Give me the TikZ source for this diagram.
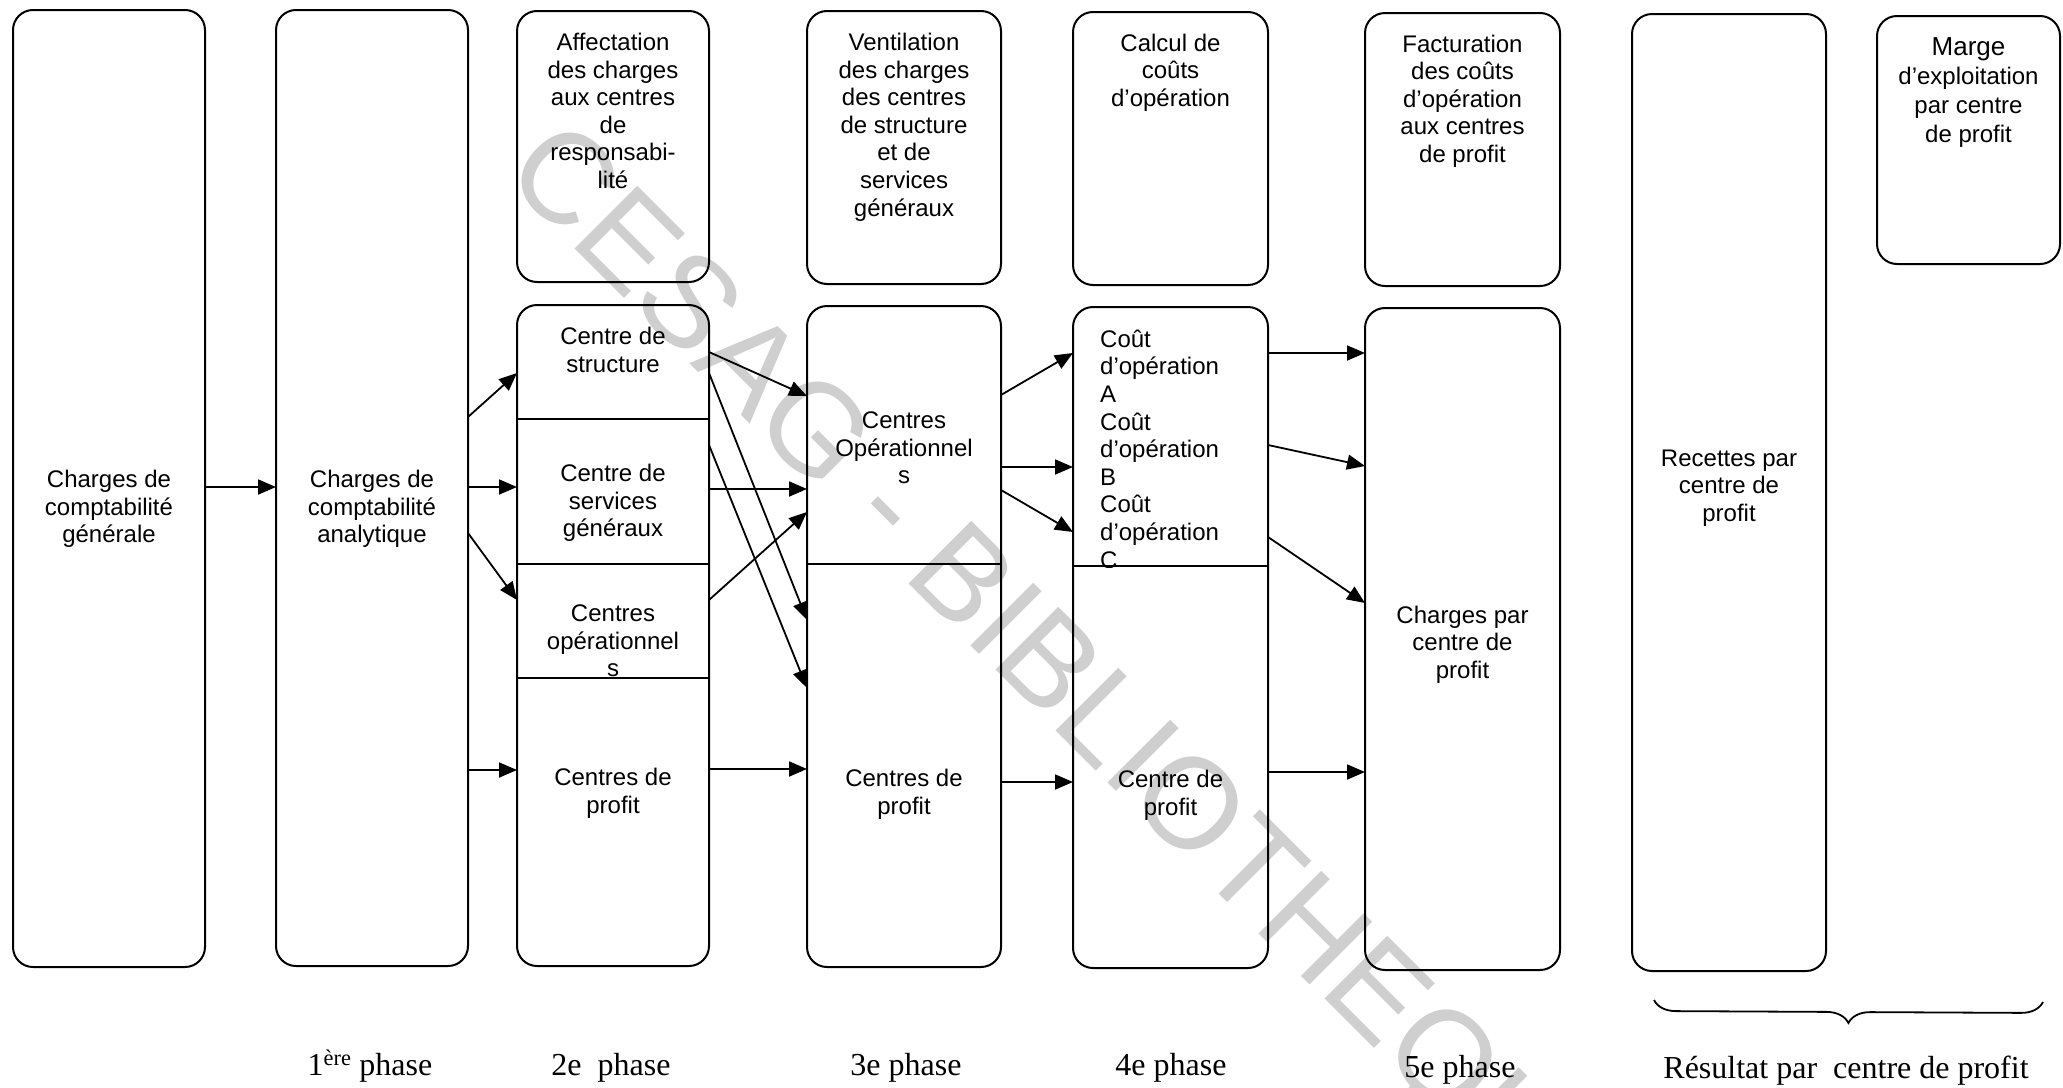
\documentclass[tikz,border=0pt]{standalone}
\usepackage{fontspec}
\setmainfont{Liberation Serif}
\newfontfamily\arialf{Liberation Sans}
\usetikzlibrary{arrows.meta,decorations.pathreplacing}
\tikzset{
  box/.style={draw, line width=2pt, rounded corners=20pt, inner sep=0pt, outer sep=0pt},
  txt/.style={font=\arialf\fontsize{24}{27.6}\selectfont, align=center, inner sep=0pt},
  phaselbl/.style={font=\fontsize{32}{36}\selectfont, anchor=base, inner sep=0pt},
  arr/.style={line width=1.8pt, -{Triangle[length=18pt,width=15pt]}},
  divider/.style={line width=2pt}
}
\begin{document}
\begin{tikzpicture}[x=1pt,y=-1pt]
\fill[white] (0,0) rectangle (2063,1087);
\useasboundingbox (0,0) rectangle (2063,1087);

% watermark
\node[rotate=-45, text=black!19, font=\arialf\fontsize{129}{135}\selectfont, inner sep=0pt] (wm) at (1062,690) {CESAG - BIBLIOTHEQUE};

% boxes
\node[box, minimum width=192pt, minimum height=957pt] (b1) at (109,488.5) {};
\node[box, minimum width=192pt, minimum height=956pt] (b2) at (372,488) {};
\node[box, minimum width=192pt, minimum height=271pt] (b3t) at (613,146.5) {};
\node[box, minimum width=192pt, minimum height=661pt] (b3) at (613,635.5) {};
\node[box, minimum width=194pt, minimum height=273pt] (b4t) at (904,147.5) {};
\node[box, minimum width=194pt, minimum height=661pt] (b4) at (904,636.5) {};
\node[box, minimum width=195pt, minimum height=273pt] (b5t) at (1170.5,148.5) {};
\node[box, minimum width=195pt, minimum height=661pt] (b5) at (1170.5,637.5) {};
\node[box, minimum width=195pt, minimum height=273pt] (b6t) at (1462.5,149.5) {};
\node[box, minimum width=195pt, minimum height=662pt] (b6) at (1462.5,639) {};
\node[box, minimum width=194pt, minimum height=957pt] (b7) at (1729,492.5) {};
\node[box, minimum width=183pt, minimum height=248pt] (b8) at (1968.5,140) {};

% dividers
\draw[divider] (b3.west |- 0,419) -- (b3.east |- 0,419);
\draw[divider] (b3.west |- 0,564) -- (b3.east |- 0,564);
\draw[divider] (b3.west |- 0,678) -- (b3.east |- 0,678);
\draw[divider] (b4.west |- 0,564) -- (b4.east |- 0,564);

% texts
\node[txt] (t1) at (109,509) {Charges de\\comptabilité\\générale};
\node[txt] (t2) at (372,509) {Charges de\\comptabilité\\analytique};
\node[txt] (t3t) at (613,111) {Affectation\\des charges\\aux centres\\de\\responsabi-\\lité};
\node[txt] (t3a) at (613,350) {Centre de\\structure};
\node[txt] (t3b) at (613,503) {Centre de\\services\\généraux};
\node[txt] (t3c) at (613,641) {Centres\\opérationnel\\s};
\node[txt] (t3d) at (613,793) {Centres de\\profit};
\node[txt] (t4t) at (904,127) {Ventilation\\des charges\\des centres\\de structure\\et de\\services\\généraux};
\node[txt] (t4a) at (904,448) {Centres\\Opérationnel\\s};
\node[txt] (t4b) at (904,794) {Centres de\\profit};
\node[txt] (t5t) at (1170.5,72.5) {Calcul de\\coûts\\d’opération};
\begin{scope}
\clip (1073,300) rectangle (1268,567);
\node[txt, align=left, anchor=west] (t5a) at (1100,449) {Coût\\d’opération\\A\\Coût\\d’opération\\B\\Coût\\d’opération\\C};
\end{scope}
\draw[divider] (b5.west |- 0,566) -- (b5.east |- 0,566);
\node[txt] (t5b) at (1170.5,795) {Centre de\\profit};
\node[txt] (t6t) at (1462.5,101) {Facturation\\des coûts\\d’opération\\aux centres\\de profit};
\node[txt] (t6) at (1462.5,644.5) {Charges par\\centre de\\profit};
\node[txt] (t7) at (1729,488) {Recettes par\\centre de\\profit};
\node[txt, font=\arialf\fontsize{24}{29}\selectfont] (t8) at (1968.5,93) {{\fontsize{26}{29}\selectfont Marge}\\d’exploitation\\par centre\\de profit};

% arrows 1 -> 2
\draw[arr] (b1.east |- 0,487) -- (b2.west |- 0,487);
% 2 -> 3
\draw[arr] (b2.east |- 0,417) -- (b3.west |- 0,373);
\draw[arr] (b2.east |- 0,487) -- (b3.west |- 0,487);
\draw[arr] (b2.east |- 0,533) -- (b3.west |- 0,600);
\draw[arr] (b2.east |- 0,770) -- (b3.west |- 0,770);
% 3 -> 4
\draw[arr] (b3.east |- 0,352) -- (b4.west |- 0,396);
\draw[arr] (b3.east |- 0,373) -- (b4.west |- 0,620);
\draw[arr] (b3.east |- 0,445) -- (b4.west |- 0,688);
\draw[arr] (b3.east |- 0,489) -- (b4.west |- 0,489);
\draw[arr] (b3.east |- 0,600) -- (b4.west |- 0,512);
\draw[arr] (b3.east |- 0,769) -- (b4.west |- 0,769);
% 4 -> 5
\draw[arr] (b4.east |- 0,395) -- (b5.west |- 0,353);
\draw[arr] (b4.east |- 0,467) -- (b5.west |- 0,467);
\draw[arr] (b4.east |- 0,490) -- (b5.west |- 0,532);
\draw[arr] (b4.east |- 0,782) -- (b5.west |- 0,782);
% 5 -> 6
\draw[arr] (b5.east |- 0,353) -- (b6.west |- 0,353);
\draw[arr] (b5.east |- 0,445) -- (b6.west |- 0,466);
\draw[arr] (b5.east |- 0,537) -- (b6.west |- 0,603);
\draw[arr] (b5.east |- 0,772) -- (b6.west |- 0,772);

% brace
\coordinate (brL) at (1654,1000);
\coordinate (brR) at (2043,1002);
\draw[line width=1.8pt, decorate, decoration={brace, mirror, amplitude=22pt, aspect=0.5}] (brL) -- (brR);

% phase labels
\node[phaselbl] (p1) at (370,1075) {1\textsuperscript{ère} phase};
\node[phaselbl] (p2) at (611,1075) {2e~ phase};
\node[phaselbl] (p3) at (906,1075) {3e phase};
\node[phaselbl] (p4) at (1171,1075) {4e phase};
\node[phaselbl] (p5) at (1460,1077) {5e phase};
\node[phaselbl] (p6) at (1846,1078) {Résultat par~ centre de profit};
\end{tikzpicture}
\end{document}
